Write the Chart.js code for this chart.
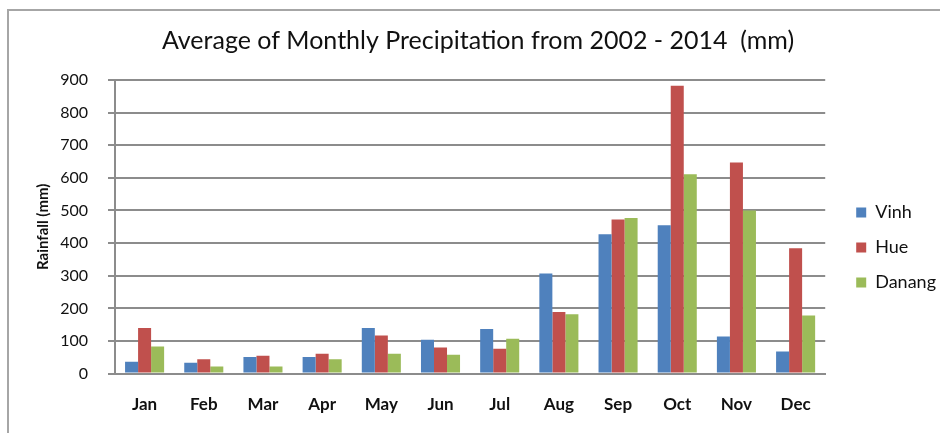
<!DOCTYPE html>
<html>
<head>
<meta charset="utf-8">
<script src="https://cdn.jsdelivr.net/npm/chart.js@4.4.0/dist/chart.umd.min.js"></script>
<style>
    html, body { margin: 0; padding: 0; background: #fff; }
    #wrap { position: relative; width: 940px; height: 433px; }
    #frame { position: absolute; left: 7px; top: 9px; right: -5px; bottom: -5px;
             border-top: 2px solid #a6a6a6; border-left: 2px solid #a6a6a6; }
    canvas { position: absolute; left: 0; top: 0; }
</style>
</head>
<body>
<div id="wrap">
    <div id="frame"></div>
    <canvas id="rainChart" width="940" height="433"></canvas>
</div>
<script>
// Data (mm)
const months = ['Jan', 'Feb', 'Mar', 'Apr', 'May', 'Jun', 'Jul', 'Aug', 'Sep', 'Oct', 'Nov', 'Dec'];
const vinh   = [36, 33, 51, 51, 140, 104, 137, 307, 427, 455, 114, 68];
const hue    = [140, 44, 55, 61, 117, 80, 76, 189, 472, 882, 647, 384];
const danang = [83, 22, 22, 44, 61, 58, 107, 182, 477, 611, 500, 178];
const yTicks = [0, 100, 200, 300, 400, 500, 600, 700, 800, 900];

const fontFamily = 'Lato, "Open Sans", sans-serif';

document.addEventListener('DOMContentLoaded', function() {
    const ctx = document.getElementById('rainChart');

    new Chart(ctx, {
        type: 'bar',
        data: {
            labels: months,
            datasets: [
                { label: 'Vinh',   data: vinh,   backgroundColor: '#4f81bd' },
                { label: 'Hue',    data: hue,    backgroundColor: '#c0504d' },
                { label: 'Danang', data: danang, backgroundColor: '#9bbb59' }
            ]
        },
        options: {
            responsive: false,
            animation: false,
            devicePixelRatio: 1,
            layout: {
                padding: { left: 10, right: -6, top: 14, bottom: 5 }
            },
            datasets: {
                bar: { categoryPercentage: 0.66, barPercentage: 1.0, borderWidth: 0 }
            },
            plugins: {
                title: {
                    display: true,
                    text: 'Average of Monthly Precipitation from 2002 - 2014  (mm)',
                    color: '#111',
                    font: { family: fontFamily, size: 25, weight: 'normal' },
                    padding: { top: 12, bottom: 24 }
                },
                legend: {
                    position: 'right',
                    title: { display: true, text: ' ', padding: 26, font: { size: 1 } },
                    labels: {
                        color: '#111',
                        boxWidth: 10,
                        boxHeight: 10,
                        padding: 17,
                        font: { family: fontFamily, size: 18 }
                    }
                },
                tooltip: { enabled: false }
            },
            scales: {
                x: {
                    grid: { display: false },
                    border: { color: '#8c8c8c', width: 2 },
                    ticks: {
                        color: '#111',
                        padding: 13,
                        font: { family: fontFamily, size: 17, weight: 'bold' }
                    }
                },
                y: {
                    min: 0,
                    max: 900,
                    afterBuildTicks: function(axis) {
                        axis.ticks = yTicks.map(v => ({ value: v }));
                    },
                    afterFit: function(axis) {
                        axis.width = 105;
                    },
                    grid: { color: '#8c8c8c', lineWidth: 2, tickLength: 7 },
                    border: { color: '#8c8c8c', width: 2 },
                    ticks: {
                        color: '#111',
                        padding: 20,
                        font: { family: fontFamily, size: 16 }
                    },
                    title: {
                        display: true,
                        text: 'Rainfall (mm)',
                        color: '#111',
                        padding: { top: 24, bottom: 3 },
                        font: { family: fontFamily, size: 15, weight: 'bold' }
                    }
                },
                // empty spacer between plot and legend
                gap: {
                    position: 'right',
                    display: true,
                    grid: { display: false },
                    border: { display: false },
                    ticks: { display: false },
                    afterFit: function(axis) {
                        axis.width = 14;
                    }
                }
            }
        }
    });
});
</script>
</body>
</html>
